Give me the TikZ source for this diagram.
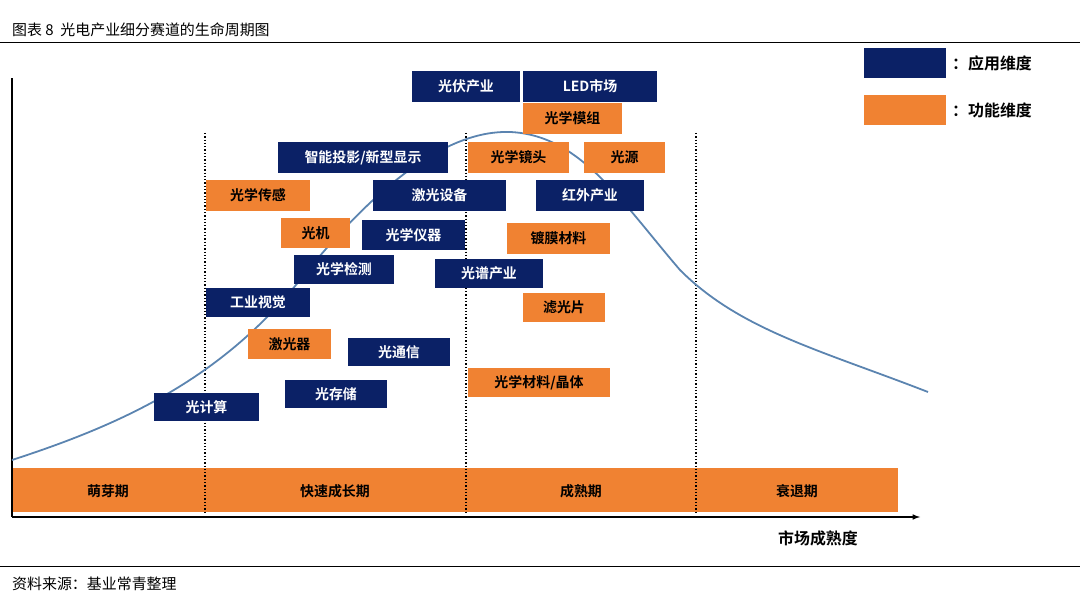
\documentclass[tikz,border=0pt]{standalone}
\usepackage{fontspec}
\setmainfont{Noto Sans CJK SC}
\newfontfamily\cjkb{Noto Sans CJK SC Bold}
\begin{document}
\begin{tikzpicture}[x=1bp,y=-1bp,
  nv/.style={fill=navyc,text=white,font=\cjkb\fontsize{14}{14}\selectfont,inner sep=0pt},
  og/.style={fill=orgc,text=black,font=\cjkb\fontsize{14}{14}\selectfont,inner sep=0pt},
  lab/.style={font=\cjkb\fontsize{14}{14}\selectfont,inner sep=0pt}]
\definecolor{navyc}{HTML}{0B2166}
\definecolor{orgc}{HTML}{F08232}
\definecolor{curvec}{HTML}{5B84B0}
\useasboundingbox (0,0) rectangle (1080,601);
\node[anchor=west,font=\fontsize{15}{15}\selectfont,inner sep=0pt] (title) at (12,30) {图表 8\ \ 光电产业细分赛道的生命周期图};
\draw[line width=0.8bp] (0,42) -- (1080,42);
\draw[line width=0.8bp] (0,566) -- (1080,566);
\node[anchor=west,font=\fontsize{15}{15}\selectfont,inner sep=0pt] (src) at (12,584) {资料来源：基业常青整理};
% legend
\fill[navyc] (864,48) rectangle (946,78);
\node[lab,anchor=west,font=\cjkb\fontsize{16}{16}\selectfont] (l1) at (952,63) {：应用维度};
\fill[orgc] (864,95) rectangle (946,125);
\node[lab,anchor=west,font=\cjkb\fontsize{16}{16}\selectfont] (l2) at (952,110) {：功能维度};
% stage bar
\fill[orgc] (12,468) rectangle (898,512);
\foreach \x in {205,466,696} \draw[dotted,line width=1.3bp] (\x,133) -- (\x,512);
\node[lab] (s1) at (108,491) {萌芽期};
\node[lab] (s2) at (335,491) {快速成长期};
\node[lab] (s3) at (581,491) {成熟期};
\node[lab] (s4) at (797,491) {衰退期};
% axes
\draw[line width=1.5bp] (12,517) -- (12,78);
\draw[line width=1.5bp,-latex] (12,517) -- (920,517);
\node[font=\cjkb\fontsize{16}{16}\selectfont] (ax) at (818,538) {市场成熟度};
% curve
\draw[curvec,line width=1.8bp] (12,460) .. controls (120,425) and (220,380) .. (300,280)
  .. controls (380,180) and (450,130) .. (510,132)
  .. controls (580,135) and (620,200) .. (680,270)
  .. controls (740,330) and (820,350) .. (928,392);
% boxes
\newcommand{\bx}[7]{\node[#1,minimum width=#4-#3 bp,minimum height=#6-#5 bp] (#2) at ({(#3+#4)/2},{(#5+#6)/2}) {#7};}
\bx{nv}{a1}{411}{521}{71}{102}{光伏产业}
\bx{nv}{a2}{522}{658}{71}{102}{LED市场}
\bx{nv}{a3}{277}{449}{142}{173}{智能投影/新型显示}
\bx{nv}{a4}{372}{507}{180}{211}{激光设备}
\bx{nv}{a5}{535}{645}{180}{211}{红外产业}
\bx{nv}{a6}{361}{466}{220}{250}{光学仪器}
\bx{nv}{a7}{293}{395}{254}{285}{光学检测}
\bx{nv}{a8}{434}{544}{258}{289}{光谱产业}
\bx{nv}{a9}{205}{311}{287}{318}{工业视觉}
\bx{nv}{a10}{347}{451}{337}{367}{光通信}
\bx{nv}{a11}{284}{388}{379}{409}{光存储}
\bx{nv}{a12}{154}{259}{392}{422}{光计算}
\bx{og}{b1}{522}{623}{103}{134}{光学模组}
\bx{og}{b2}{467}{570}{142}{173}{光学镜头}
\bx{og}{b3}{583}{666}{142}{173}{光源}
\bx{og}{b4}{205}{311}{180}{211}{光学传感}
\bx{og}{b5}{280}{351}{218}{248}{光机}
\bx{og}{b6}{506}{611}{223}{254}{镀膜材料}
\bx{og}{b7}{522}{606}{292}{323}{滤光片}
\bx{og}{b8}{247}{332}{328}{360}{激光器}
\bx{og}{b9}{467}{611}{367}{398}{光学材料/晶体}
\end{tikzpicture}
\end{document}
